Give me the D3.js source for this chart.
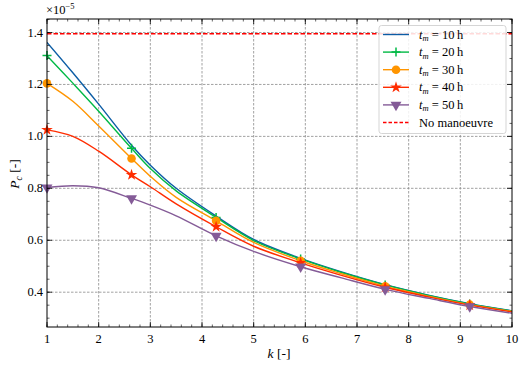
<!DOCTYPE html>
<html>
<head>
<meta charset="utf-8">
<script src="https://cdnjs.cloudflare.com/ajax/libs/d3/7.8.5/d3.min.js"></script>
<style>
  body { margin: 0; background: #fff; }
  svg text { font-family: "Liberation Serif", "DejaVu Serif", serif; }
</style>
</head>
<body>
<script>
var kValues = [1, 1.5, 2, 2.636, 3, 3.5, 4.273, 5, 5.909, 6.7, 7.545, 8.4, 9.182, 10];
// indices of the points that carry markers
var markIdx = [0, 3, 6, 8, 10, 12];

var pc10 = [1.362, 1.245, 1.124, 0.966, 0.889, 0.800, 0.693, 0.603, 0.530, 0.478, 0.429, 0.388, 0.356, 0.328];
var pc20 = [1.311, 1.205, 1.097, 0.954, 0.876, 0.790, 0.688, 0.599, 0.528, 0.476, 0.428, 0.387, 0.355, 0.327];
var pc30 = [1.204, 1.135, 1.040, 0.915, 0.846, 0.765, 0.675, 0.592, 0.521, 0.471, 0.423, 0.384, 0.352, 0.326];
var pc40 = [1.025, 1.000, 0.943, 0.852, 0.806, 0.740, 0.652, 0.577, 0.513, 0.465, 0.419, 0.381, 0.350, 0.324];
var pc50 = [0.803, 0.810, 0.802, 0.761, 0.735, 0.694, 0.617, 0.557, 0.498, 0.455, 0.411, 0.376, 0.345, 0.319];
var noManoeuvre = 1.395;

var seriesNames = ["10", "20", "30", "40", "50"];
var xTicks = [1, 2, 3, 4, 5, 6, 7, 8, 9, 10];
var yTicks = [0.4, 0.6, 0.8, 1.0, 1.2, 1.4];
var yTickLabels = ["0.4", "0.6", "0.8", "1.0", "1.2", "1.4"];

var series = [
  {name: seriesNames[0], vals: pc10, color: '#0C5DA5', marker: null},
  {name: seriesNames[1], vals: pc20, color: '#00B945', marker: 'plus'},
  {name: seriesNames[2], vals: pc30, color: '#FF9500', marker: 'circle'},
  {name: seriesNames[3], vals: pc40, color: '#FF2C00', marker: 'star'},
  {name: seriesNames[4], vals: pc50, color: '#845B97', marker: 'tri'}
];

var W = 524, H = 369;
var pL = 47, pR = 512, pT = 19, pB = 327;

var svg = d3.select('body').append('svg')
  .attr('width', W).attr('height', H);

var x = d3.scaleLinear().domain([1, 10]).range([pL, pR]);
var y = d3.scaleLinear().domain([0.266, 1.452]).range([pB, pT]);

// grid
var grid = svg.append('g').attr('class', 'grid');
grid.selectAll('.gx').data(xTicks.slice(1, -1)).enter().append('line')
  .attr('x1', function(d){ return x(d); }).attr('x2', function(d){ return x(d); })
  .attr('y1', pT).attr('y2', pB)
  .style('stroke', '#8a8a8a').style('stroke-width', 0.8).style('stroke-dasharray', '2.5,1.5');
grid.selectAll('.gy').data(yTicks).enter().append('line')
  .attr('y1', function(d){ return y(d); }).attr('y2', function(d){ return y(d); })
  .attr('x1', pL).attr('x2', pR)
  .style('stroke', '#8a8a8a').style('stroke-width', 0.8).style('stroke-dasharray', '2.5,1.5');

// no manoeuvre reference
svg.append('line')
  .attr('x1', pL).attr('x2', pR)
  .attr('y1', y(noManoeuvre)).attr('y2', y(noManoeuvre))
  .style('stroke', '#ff0000').style('stroke-width', 1.4).style('stroke-dasharray', '4.5,2');

var line = d3.line()
  .x(function(d, i){ return x(kValues[i]); })
  .y(function(d){ return y(d); })
  .curve(d3.curveCatmullRom.alpha(0.5));

svg.append('clipPath').attr('id', 'clip').append('rect')
  .attr('x', pL).attr('y', pT).attr('width', pR - pL).attr('height', pB - pT);

var plot = svg.append('g').attr('clip-path', 'url(#clip)');

function drawMarker(g, type, color) {
  if (type === 'plus') {
    g.append('path').attr('d', 'M-4.5,0H4.5M0,-4.5V4.5')
      .style('stroke', color).style('stroke-width', 1.5).style('fill', 'none');
  } else if (type === 'circle') {
    g.append('circle').attr('r', 4.3).style('fill', color);
  } else if (type === 'star') {
    g.append('path').attr('d', d3.symbol().type(d3.symbolStar).size(42)()).style('fill', color);
  } else if (type === 'tri') {
    g.append('path').attr('d', d3.symbol().type(d3.symbolTriangle).size(52)())
      .attr('transform', 'rotate(180)').style('fill', color);
  }
}

series.forEach(function(s){
  plot.append('path').datum(s.vals)
    .attr('d', line)
    .style('fill', 'none').style('stroke', s.color).style('stroke-width', 1.4);
});
series.forEach(function(s){
  if (!s.marker) return;
  markIdx.forEach(function(i){
    var g = svg.append('g').attr('transform', 'translate(' + x(kValues[i]) + ',' + y(s.vals[i]) + ')');
    drawMarker(g, s.marker, s.color);
  });
});

// frame
svg.append('rect').attr('x', pL).attr('y', pT)
  .attr('width', pR - pL).attr('height', pB - pT)
  .style('fill', 'none').style('stroke', '#000').style('stroke-width', 1);

// ticks (inward, all sides)
var xMinor = d3.range(1, 10.001, 0.2);
var yMinor = d3.range(0.3, 1.451, 0.05);
var ticks = svg.append('g').style('stroke', '#000');
function tick(x1, y1, x2, y2, w) {
  ticks.append('line').attr('x1', x1).attr('y1', y1).attr('x2', x2).attr('y2', y2)
    .style('stroke-width', w);
}
xMinor.forEach(function(d){
  tick(x(d), pB, x(d), pB - 2.5, 0.6);
  tick(x(d), pT, x(d), pT + 2.5, 0.6);
});
xTicks.forEach(function(d){
  tick(x(d), pB, x(d), pB - 5, 0.8);
  tick(x(d), pT, x(d), pT + 5, 0.8);
});
yMinor.forEach(function(d){
  tick(pL, y(d), pL + 2.5, y(d), 0.6);
  tick(pR, y(d), pR - 2.5, y(d), 0.6);
});
yTicks.forEach(function(d){
  tick(pL, y(d), pL + 5, y(d), 0.8);
  tick(pR, y(d), pR - 5, y(d), 0.8);
});

// tick labels
svg.selectAll('.xl').data(xTicks).enter().append('text')
  .attr('x', function(d){ return x(d); }).attr('y', pB + 16)
  .attr('text-anchor', 'middle').style('font-size', '12.5px')
  .text(function(d){ return d; });
svg.selectAll('.yl').data(yTicks).enter().append('text')
  .attr('x', pL - 4).attr('y', function(d){ return y(d) + 4; })
  .attr('text-anchor', 'end').style('font-size', '12.5px')
  .text(function(d, i){ return yTickLabels[i]; });

// offset text
var off = svg.append('text').attr('x', pL - 1).attr('y', 14).style('font-size', '12.5px');
off.append('tspan').text('\u00d710');
off.append('tspan').attr('dy', -5).style('font-size', '8.5px').text('\u22125');

// axis labels
var xl = svg.append('text').attr('x', 279).attr('y', 358).attr('text-anchor', 'middle').style('font-size', '13.5px');
xl.append('tspan').style('font-style', 'italic').text('k');
xl.append('tspan').text(' [-]');

var yl = svg.append('text').attr('transform', 'translate(19,174) rotate(-90)')
  .attr('text-anchor', 'middle').style('font-size', '13.5px');
yl.append('tspan').style('font-style', 'italic').text('P');
yl.append('tspan').attr('dy', 3).style('font-style', 'italic').style('font-size', '9.5px').text('c');
yl.append('tspan').attr('dy', -3).text(' [-]');

// legend
var lg = svg.append('g');
lg.append('rect').attr('x', 379).attr('y', 25.5).attr('width', 127).attr('height', 108)
  .attr('rx', 2.5).style('fill', 'rgba(255,255,255,0.85)').style('stroke', '#d0d0d0').style('stroke-width', 0.9);
var rowY = d3.scaleLinear().domain([0, 5]).range([34.5, 122.5]);
series.forEach(function(s, i){
  var ry = rowY(i);
  lg.append('line').attr('x1', 383).attr('x2', 409).attr('y1', ry).attr('y2', ry)
    .style('stroke', s.color).style('stroke-width', 1.4);
  if (s.marker) {
    var g = lg.append('g').attr('transform', 'translate(396,' + ry + ')');
    drawMarker(g, s.marker, s.color);
  }
  var t = lg.append('text').attr('x', 419).attr('y', ry + 4).style('font-size', '12.5px');
  t.append('tspan').style('font-style', 'italic').text('t');
  t.append('tspan').attr('dy', 2.5).style('font-style', 'italic').style('font-size', '8.5px').text('m');
  t.append('tspan').attr('dy', -2.5).text(' = ' + s.name + '\u2009h');
});
var ry5 = rowY(5);
lg.append('line').attr('x1', 383).attr('x2', 409).attr('y1', ry5).attr('y2', ry5)
  .style('stroke', '#ff0000').style('stroke-width', 1.3).style('stroke-dasharray', '3.5,2');
lg.append('text').attr('x', 419).attr('y', ry5 + 4).style('font-size', '12.5px').text('No manoeuvre');
</script>
</body>
</html>
